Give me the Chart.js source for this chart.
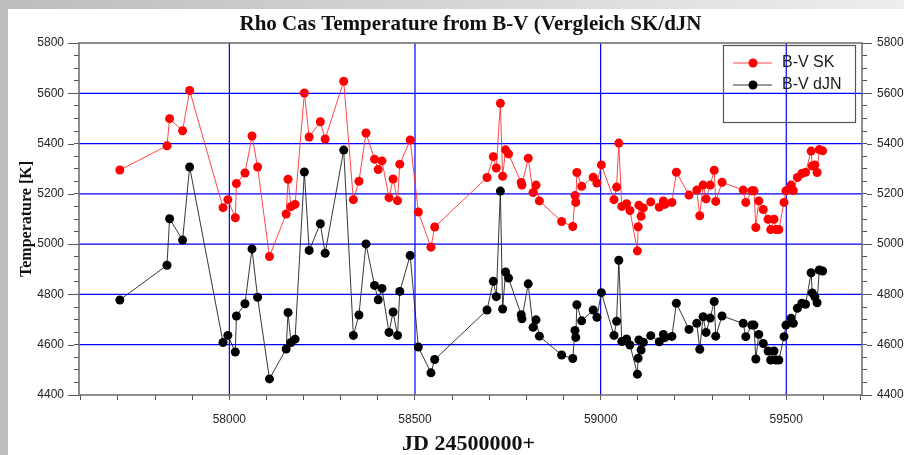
<!DOCTYPE html>
<html lang="de">
<head>
<meta charset="UTF-8">
<title>Rho Cas Temperature from B-V</title>
<script src="https://cdn.jsdelivr.net/npm/chart.js"></script>
<style>
    html, body { margin: 0; padding: 0; width: 904px; height: 455px; overflow: hidden; background: #fff; }
    .frame-top { position: absolute; left: 0; top: 0; width: 904px; height: 9px; background: linear-gradient(to right, #bdbdbd, #eeeeee); }
    .frame-left { position: absolute; left: 0; top: 0; width: 8px; height: 455px; background: #bdbdbd; }
    #tempChart { position: absolute; left: 0; top: 0; }
</style>
</head>
<body>
<div class="frame-top"></div>
<div class="frame-left"></div>
<canvas id="tempChart" width="904" height="455"></canvas>
<script>
// Beobachtungszeitpunkte (JD - 2400000)
const jd = [
    57705, 57832, 57839, 57874, 57893, 57983, 57996, 58016, 58019, 58042,
    58061, 58076, 58108, 58153, 58158, 58166, 58177, 58202, 58215, 58245,
    58258, 58308, 58334, 58349, 58368, 58391, 58401, 58411, 58430, 58441,
    58453, 58459, 58487, 58509, 58543, 58553, 58694, 58711, 58719, 58730,
    58736, 58744, 58752, 58786, 58788, 58805, 58818, 58826, 58835, 58895,
    58925, 58931, 58933, 58936, 58949, 58980, 58990, 59002, 59036, 59043,
    59049, 59057, 59070, 59079, 59099, 59101, 59103, 59109, 59115, 59135,
    59158, 59169, 59173, 59192, 59204, 59238, 59259, 59267, 59276, 59284,
    59295, 59306, 59310, 59327, 59384, 59391, 59407, 59413, 59418, 59426,
    59438, 59451, 59458, 59467, 59472, 59480, 59494, 59499, 59513, 59519,
    59530, 59542, 59552, 59567, 59570, 59577, 59583, 59589, 59598
];

// Temperatur aus B-V, Vergleich SK
const tempSK = [
    5295, 5391, 5499, 5451, 5611, 5145, 5177, 5105, 5241, 5283,
    5430, 5307, 4951, 5120, 5258, 5149, 5158, 5601, 5426, 5487,
    5418, 5648, 5177, 5250, 5442, 5338, 5297, 5331, 5185, 5259,
    5173, 5318, 5414, 5128, 4988, 5068, 5265, 5348, 5303, 5560,
    5270, 5375, 5359, 5245, 5235, 5342, 5205, 5235, 5172, 5090,
    5070, 5193, 5166, 5285, 5230, 5266, 5243, 5315, 5177, 5227,
    5402, 5150, 5161, 5134, 4973, 5069, 5155, 5111, 5144, 5168,
    5147, 5172, 5158, 5166, 5286, 5195, 5215, 5113, 5235, 5180,
    5235, 5294, 5170, 5246, 5215, 5166, 5212, 5212, 5066, 5172,
    5138, 5099, 5058, 5099, 5058, 5058, 5166, 5212, 5235, 5213,
    5265, 5281, 5286, 5370, 5311, 5315, 5285, 5376, 5371
];

// Temperatur aus B-V, Vergleich dJN
const tempDJN = [
    4778, 4916, 5101, 5016, 5307, 4609, 4637, 4571, 4714, 4763,
    4981, 4789, 4464, 4583, 4728, 4609, 4622, 5287, 4975, 5081,
    4964, 5374, 4637, 4718, 5001, 4836, 4779, 4824, 4649, 4730,
    4637, 4812, 4955, 4591, 4488, 4541, 4738, 4852, 4791, 5211,
    4742, 4889, 4865, 4719, 4703, 4842, 4669, 4699, 4634, 4559,
    4545, 4657, 4629, 4759, 4695, 4738, 4709, 4807, 4637, 4693,
    4936, 4613, 4623, 4599, 4483, 4546, 4619, 4579, 4610, 4636,
    4612, 4641, 4628, 4633, 4765, 4661, 4685, 4582, 4711, 4649,
    4706, 4772, 4634, 4714, 4685, 4632, 4678, 4678, 4543, 4641,
    4605, 4575, 4539, 4575, 4539, 4539, 4632, 4678, 4705, 4685,
    4745, 4765, 4761, 4886, 4806, 4790, 4767, 4897, 4893
];

const seriesNames = ['B-V SK', 'B-V dJN'];
const seriesColors = ['#ff0000', '#000000'];
const lineColors = ['rgba(255, 40, 40, 0.85)', 'rgba(20, 20, 20, 0.85)'];

// beschriftete Achsenwerte
const xLabels = [58000, 58500, 59000, 59500];
const yLabels = [4400, 4600, 4800, 5000, 5200, 5400, 5600, 5800];

const titleText = 'Rho Cas Temperature from B-V (Vergleich SK/dJN';
const xTitle = 'JD 24500000+';
const yTitle = 'Temperature [K]';

const xMin = 57595, xMax = 59704;
const yMin = 4400, yMax = 5800;
const xMinorStep = 100, yMinorStep = 50;

const toPoints = vals => jd.map((x, i) => ({ x: x, y: vals[i] }));

// Teilstriche: alle 100 Tage bzw. alle 50 K
function minorTicks(from, to, step) {
    const out = [];
    for (let v = Math.ceil(from / step) * step; v <= to; v += step) out.push({ value: v });
    return out;
}

const tickFont = { family: '"Liberation Sans", Arial, sans-serif', size: 12 };
const blue = '#0000ff';

const decor = {
    id: 'decor',
    // blaues Gitter an den beschrifteten Werten
    beforeDatasetsDraw(chart) {
        const { ctx, chartArea: a, scales } = chart;
        ctx.save();
        ctx.strokeStyle = blue;
        ctx.lineWidth = 1.2;
        ctx.beginPath();
        xLabels.forEach(v => {
            const x = scales.x.getPixelForValue(v);
            ctx.moveTo(x, a.top); ctx.lineTo(x, a.bottom);
        });
        yLabels.filter(v => v !== yMin && v !== yMax).forEach(v => {
            const y = scales.y.getPixelForValue(v);
            ctx.moveTo(a.left, y); ctx.lineTo(a.right, y);
        });
        ctx.stroke();
        ctx.restore();
    },
    // Rahmen, Titel, Achsentitel, Legende
    afterDraw(chart) {
        const { ctx, chartArea: a, scales } = chart;
        ctx.save();

        // laengere Striche an den beschrifteten Temperaturwerten
        ctx.strokeStyle = '#555';
        ctx.lineWidth = 1;
        ctx.beginPath();
        yLabels.forEach(v => {
            const y = Math.round(scales.y.getPixelForValue(v)) + 0.5;
            ctx.moveTo(a.left - 11, y); ctx.lineTo(a.left - 5, y);
            ctx.moveTo(a.right + 5, y); ctx.lineTo(a.right + 10, y);
        });
        ctx.stroke();

        ctx.strokeStyle = '#6a6a6a';
        ctx.lineWidth = 1.5;
        ctx.strokeRect(a.left, a.top, a.right - a.left, a.bottom - a.top);

        const cx = (a.left + a.right) / 2;
        ctx.fillStyle = '#111';
        ctx.textAlign = 'center';
        ctx.textBaseline = 'middle';
        ctx.font = 'bold 21px "Liberation Serif", serif';
        ctx.fillText(titleText, cx, 25);

        ctx.font = 'bold 22px "Liberation Serif", serif';
        ctx.fillText(xTitle, cx - 2, 444);

        ctx.save();
        ctx.translate(27, (a.top + a.bottom) / 2);
        ctx.rotate(-Math.PI / 2);
        ctx.font = 'bold 16px "Liberation Serif", serif';
        ctx.fillText(yTitle, 0, 0);
        ctx.restore();

        // Legende oben rechts
        const lx = 723, ly = 45, lw = 132, lh = 77;
        ctx.strokeStyle = '#555';
        ctx.lineWidth = 1.2;
        ctx.strokeRect(lx + 0.5, ly + 0.5, lw, lh);
        ctx.font = '16px "Liberation Sans", Arial, sans-serif';
        ctx.textAlign = 'left';
        seriesNames.forEach((name, i) => {
            const y = 63 + i * 22;
            ctx.strokeStyle = lineColors[i];
            ctx.lineWidth = 1;
            ctx.beginPath();
            ctx.moveTo(733, y); ctx.lineTo(772, y);
            ctx.stroke();
            ctx.fillStyle = seriesColors[i];
            ctx.beginPath();
            ctx.arc(753, y, 4.5, 0, Math.PI * 2);
            ctx.fill();
            ctx.fillStyle = '#1a1a1a';
            ctx.fillText(name, 782, y);
        });
        ctx.restore();
    }
};

const yTicks = {
    autoSkip: false,
    color: '#222',
    font: tickFont,
    padding: 10,
    callback: v => (yLabels.includes(v) ? String(v) : '')
};
const tickGrid = { drawOnChartArea: false, tickColor: '#555', tickLength: 5 };

new Chart(document.getElementById('tempChart'), {
    type: 'line',
    data: {
        datasets: [toPoints(tempSK), toPoints(tempDJN)].map((pts, i) => ({
            label: seriesNames[i],
            data: pts,
            borderColor: lineColors[i],
            backgroundColor: seriesColors[i],
            pointBackgroundColor: seriesColors[i],
            pointBorderWidth: 0,
            pointRadius: 4.5,
            borderWidth: 1,
            tension: 0
        }))
    },
    options: {
        responsive: false,
        animation: false,
        layout: { padding: { top: 43, left: 0, right: 0, bottom: 0 } },
        plugins: {
            legend: { display: false },
            title: { display: false },
            tooltip: { enabled: false }
        },
        scales: {
            x: {
                type: 'linear',
                min: xMin,
                max: xMax,
                border: { display: false },
                grid: tickGrid,
                afterBuildTicks: s => { s.ticks = minorTicks(xMin, xMax, xMinorStep); },
                ticks: {
                    autoSkip: false,
                    maxRotation: 0,
                    color: '#222',
                    font: tickFont,
                    padding: 12,
                    callback: v => (xLabels.includes(v) ? String(v) : '')
                },
                afterFit: s => { s.height = 60; }
            },
            y: {
                position: 'left',
                min: yMin,
                max: yMax,
                border: { display: false },
                grid: tickGrid,
                afterBuildTicks: s => { s.ticks = minorTicks(yMin, yMax, yMinorStep); },
                ticks: yTicks,
                afterFit: s => { s.width = 79; }
            },
            y2: {
                position: 'right',
                min: yMin,
                max: yMax,
                border: { display: false },
                grid: tickGrid,
                afterBuildTicks: s => { s.ticks = minorTicks(yMin, yMax, yMinorStep); },
                ticks: yTicks,
                afterFit: s => { s.width = 42; }
            }
        }
    },
    plugins: [decor]
});
</script>
</body>
</html>
